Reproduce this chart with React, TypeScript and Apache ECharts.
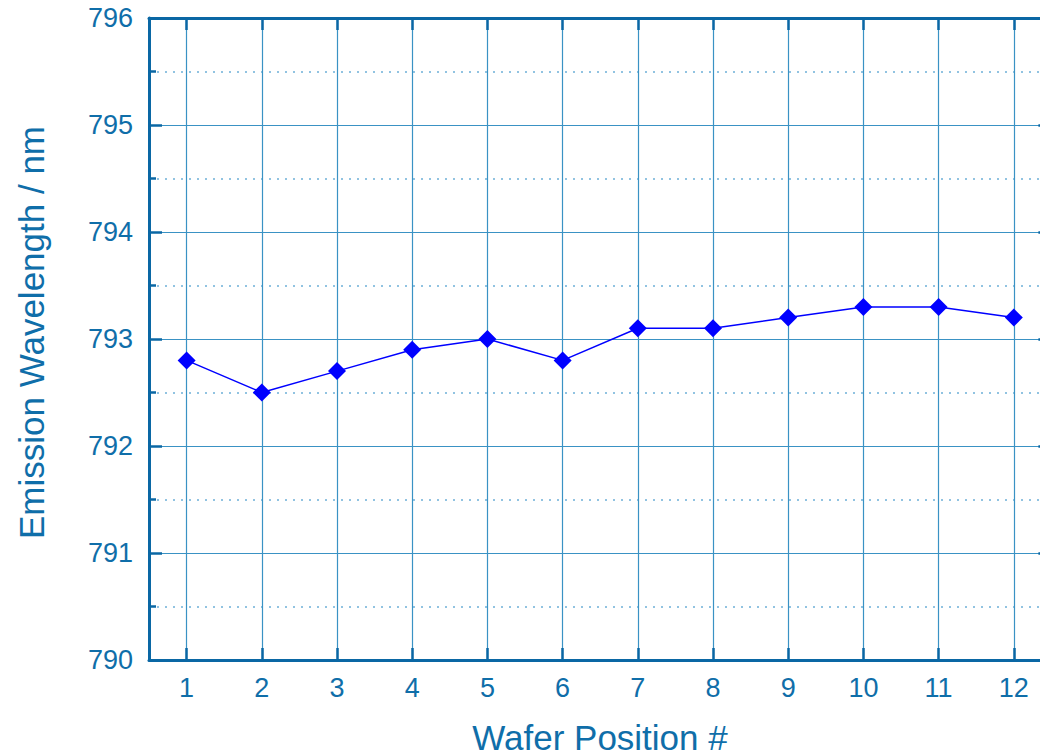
import React, { useEffect, useRef } from "react";
import * as echarts from "echarts";

const positions = ["1", "2", "3", "4", "5", "6", "7", "8", "9", "10", "11", "12"];
const positionValues = [1, 2, 3, 4, 5, 6, 7, 8, 9, 10, 11, 12];
const wavelengths = [792.8, 792.5, 792.7, 792.9, 793.0, 792.8, 793.1, 793.1, 793.2, 793.3, 793.3, 793.2];

const xTitle = "Wafer Position #";
const yTitle = "Emission Wavelength / nm";

const FONT = '"Liberation Sans", Arial, Helvetica, sans-serif';
const TEXT = "#0f6ea9";
const AXIS = "#0a67a4";
const GRID = "#3a92c4";
const MINOR_GRID = "#6db0d8";

export default function App() {
  const ref = useRef<HTMLDivElement>(null);

  useEffect(() => {
    if (!ref.current) return;
    const chart = echarts.init(ref.current, undefined, { renderer: "svg" });

    const xCommon = {
      type: "value" as const,
      min: 0.5,
      max: 12.5,
      axisLine: { show: true, onZero: false, lineStyle: { color: AXIS, width: 3 } },
      axisTick: {
        show: true,
        inside: true,
        length: 12,
        customValues: positionValues,
        lineStyle: { color: AXIS, width: 2.5 },
      },
    };

    const yCommon = {
      type: "value" as const,
      min: 790,
      max: 796,
      interval: 1,
      axisLine: { show: true, onZero: false, lineStyle: { color: AXIS, width: 3 } },
      axisTick: { show: true, inside: true, length: 13, lineStyle: { color: AXIS, width: 2.5 } },
      minorTick: { show: true, splitNumber: 2, length: 7, lineStyle: { color: AXIS, width: 2.5 } },
    };

    chart.setOption({
      animation: false,
      backgroundColor: "#ffffff",
      grid: { left: 149, top: 18, width: 902.4, height: 642, containLabel: false },
      xAxis: [
        {
          ...xCommon,
          position: "bottom",
          axisLabel: {
            show: true,
            customValues: positionValues,
            formatter: (v: number) => positions[positionValues.indexOf(v)] ?? "",
            color: TEXT,
            fontSize: 27,
            lineHeight: 27,
            fontFamily: FONT,
            margin: 14,
          },
          splitLine: { show: true, lineStyle: { color: GRID, width: 1.2 } },
        },
        {
          ...xCommon,
          position: "top",
          axisLabel: { show: false },
          splitLine: { show: false },
        },
      ],
      yAxis: [
        {
          ...yCommon,
          position: "left",
          axisLabel: {
            show: true,
            color: TEXT,
            fontSize: 27,
            fontFamily: FONT,
            margin: 16,
          },
          splitLine: { show: true, lineStyle: { color: GRID, width: 1.2 } },
          minorSplitLine: { show: true, lineStyle: { color: MINOR_GRID, width: 1.6, type: [2, 6] } },
        },
        {
          ...yCommon,
          position: "right",
          axisLabel: { show: false },
          splitLine: { show: false },
        },
      ],
      graphic: [
        {
          type: "text",
          x: 600,
          y: 737,
          style: {
            text: xTitle,
            fill: TEXT,
            font: `35px ${FONT}`,
            align: "center",
            verticalAlign: "middle",
          },
        },
        {
          type: "text",
          x: 31,
          y: 332.5,
          rotation: Math.PI / 2,
          style: {
            text: yTitle,
            fill: TEXT,
            font: `35px ${FONT}`,
            align: "center",
            verticalAlign: "middle",
          },
        },
      ],
      series: [
        {
          type: "line",
          data: positionValues.map((p, i) => [p, wavelengths[i]]),
          symbol: "diamond",
          symbolSize: 18,
          itemStyle: { color: "#0000ff" },
          lineStyle: { color: "#0000ff", width: 1.5 },
          clip: false,
        },
      ],
    });

    return () => chart.dispose();
  }, []);

  return (
    <div
      style={{
        position: "absolute",
        left: 0,
        top: 0,
        width: 1040,
        height: 755,
        overflow: "hidden",
        background: "#ffffff",
      }}
    >
      <div ref={ref} style={{ width: 1100, height: 755 }} />
    </div>
  );
}
